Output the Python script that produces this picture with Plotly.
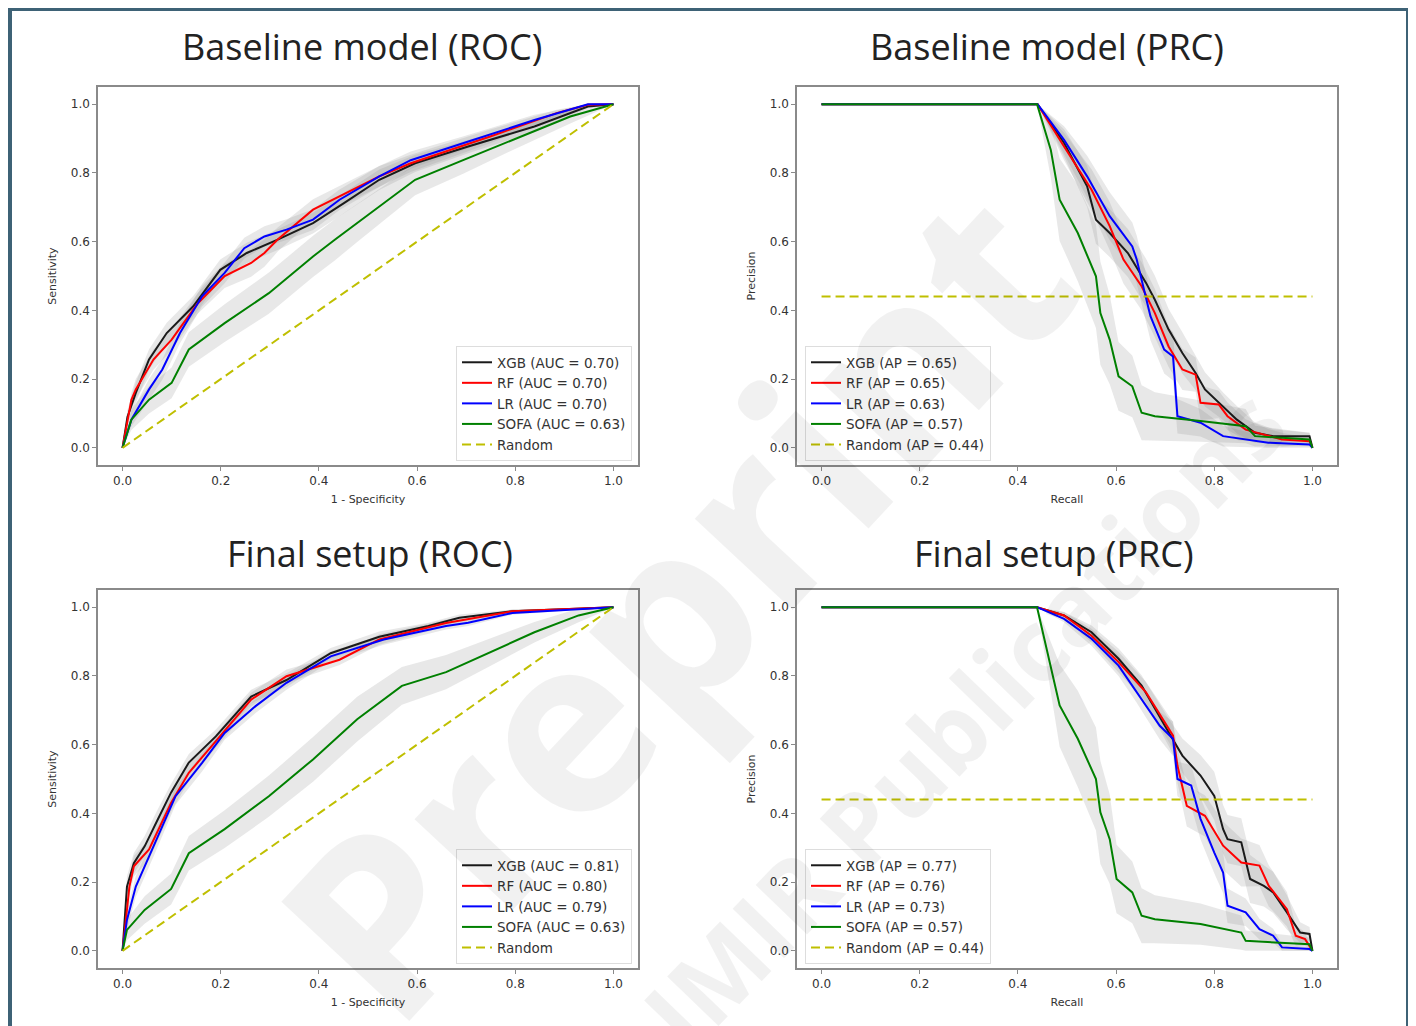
import numpy as np
import plotly.graph_objects as go

# ---------------- data ----------------
# Baseline model ROC
b_roc_xgb_x = [0, 0.01, 0.027, 0.054, 0.09, 0.144, 0.199, 0.253, 0.316, 0.388, 0.451, 0.523, 0.596, 0.704, 0.839, 0.948, 1.0]
b_roc_xgb_y = [0, 0.09, 0.16, 0.257, 0.334, 0.412, 0.518, 0.567, 0.606, 0.654, 0.712, 0.78, 0.828, 0.877, 0.935, 0.993, 1.0]
b_roc_xgb_ci = [0, 0.02, 0.03, 0.03, 0.03, 0.03, 0.03, 0.03, 0.03, 0.03, 0.03, 0.03, 0.025, 0.02, 0.015, 0.005, 0]
b_roc_rf_x = [0, 0.018, 0.027, 0.063, 0.1, 0.153, 0.208, 0.262, 0.289, 0.316, 0.388, 0.442, 0.523, 0.587, 0.749, 0.884, 0.948, 1.0]
b_roc_rf_y = [0, 0.14, 0.17, 0.257, 0.315, 0.42, 0.5, 0.538, 0.567, 0.606, 0.693, 0.732, 0.79, 0.828, 0.906, 0.974, 0.998, 1.0]
b_roc_rf_ci = [0, 0.02, 0.03, 0.03, 0.03, 0.03, 0.035, 0.04, 0.04, 0.035, 0.03, 0.03, 0.03, 0.025, 0.02, 0.01, 0.005, 0]
b_roc_lr_x = [0, 0.018, 0.054, 0.081, 0.117, 0.162, 0.208, 0.248, 0.289, 0.334, 0.388, 0.442, 0.523, 0.587, 0.695, 0.839, 0.948, 1.0]
b_roc_lr_y = [0, 0.082, 0.17, 0.228, 0.334, 0.441, 0.509, 0.581, 0.615, 0.635, 0.664, 0.722, 0.79, 0.837, 0.887, 0.954, 1.0, 1.0]
b_roc_lr_ci = [0, 0.02, 0.03, 0.03, 0.03, 0.03, 0.03, 0.03, 0.03, 0.03, 0.03, 0.03, 0.03, 0.025, 0.02, 0.015, 0.005, 0]
b_roc_sofa_x = [0, 0.018, 0.054, 0.1, 0.135, 0.208, 0.298, 0.388, 0.433, 0.478, 0.532, 0.596, 0.695, 0.794, 0.912, 1.0]
b_roc_sofa_y = [0, 0.082, 0.14, 0.189, 0.286, 0.363, 0.45, 0.557, 0.606, 0.654, 0.712, 0.78, 0.838, 0.896, 0.964, 1.0]
b_roc_sofa_ci = [0, 0.03, 0.04, 0.045, 0.05, 0.055, 0.06, 0.06, 0.06, 0.055, 0.05, 0.045, 0.04, 0.03, 0.02, 0]

# Final setup ROC
f_roc_xgb_x = [0, 0.009, 0.023, 0.045, 0.072, 0.099, 0.135, 0.19, 0.262, 0.334, 0.424, 0.523, 0.623, 0.686, 0.794, 1.0]
f_roc_xgb_y = [0, 0.187, 0.255, 0.304, 0.383, 0.461, 0.548, 0.624, 0.74, 0.788, 0.866, 0.914, 0.945, 0.969, 0.988, 1.0]
f_roc_xgb_ci = [0, 0.03, 0.03, 0.03, 0.03, 0.025, 0.025, 0.02, 0.02, 0.02, 0.015, 0.015, 0.01, 0.01, 0.005, 0]
f_roc_rf_x = [0, 0.014, 0.023, 0.054, 0.099, 0.135, 0.181, 0.262, 0.334, 0.442, 0.523, 0.659, 0.794, 1.0]
f_roc_rf_y = [0, 0.187, 0.246, 0.295, 0.431, 0.518, 0.595, 0.731, 0.799, 0.847, 0.906, 0.954, 0.988, 1.0]
f_roc_rf_ci = [0, 0.03, 0.03, 0.03, 0.025, 0.025, 0.02, 0.02, 0.02, 0.015, 0.015, 0.01, 0.005, 0]
f_roc_lr_x = [0, 0.009, 0.027, 0.063, 0.108, 0.162, 0.208, 0.271, 0.334, 0.424, 0.532, 0.659, 0.704, 0.794, 1.0]
f_roc_lr_y = [0, 0.09, 0.187, 0.304, 0.45, 0.547, 0.634, 0.712, 0.78, 0.857, 0.906, 0.945, 0.955, 0.983, 1.0]
f_roc_lr_ci = [0, 0.03, 0.03, 0.03, 0.025, 0.025, 0.02, 0.02, 0.02, 0.015, 0.015, 0.01, 0.01, 0.005, 0]
f_roc_sofa_x = [0, 0.009, 0.045, 0.099, 0.135, 0.208, 0.298, 0.388, 0.478, 0.569, 0.659, 0.749, 0.839, 0.929, 1.0]
f_roc_sofa_y = [0, 0.061, 0.119, 0.18, 0.284, 0.354, 0.45, 0.557, 0.674, 0.771, 0.811, 0.869, 0.927, 0.976, 1.0]
f_roc_sofa_ci = [0, 0.03, 0.04, 0.045, 0.05, 0.055, 0.06, 0.065, 0.065, 0.055, 0.05, 0.04, 0.03, 0.02, 0]

# Baseline model PRC
b_prc_xgb_x = [0, 0.44, 0.494, 0.541, 0.559, 0.587, 0.624, 0.661, 0.679, 0.707, 0.735, 0.762, 0.781, 0.818, 0.846, 0.883, 0.92, 0.994, 1.0]
b_prc_xgb_y = [1, 1, 0.887, 0.761, 0.664, 0.625, 0.567, 0.48, 0.431, 0.344, 0.276, 0.218, 0.17, 0.121, 0.082, 0.044, 0.034, 0.034, 0.0]
b_prc_xgb_ci = [0, 0, 0.04, 0.06, 0.07, 0.07, 0.07, 0.07, 0.07, 0.06, 0.06, 0.05, 0.05, 0.04, 0.04, 0.03, 0.02, 0.01, 0]
b_prc_rf_x = [0, 0.44, 0.494, 0.55, 0.587, 0.615, 0.652, 0.679, 0.707, 0.735, 0.762, 0.772, 0.809, 0.827, 0.864, 0.911, 0.938, 0.994, 1.0]
b_prc_rf_y = [1, 1, 0.877, 0.751, 0.645, 0.548, 0.47, 0.392, 0.295, 0.228, 0.213, 0.131, 0.126, 0.092, 0.053, 0.034, 0.024, 0.019, 0.0]
b_prc_rf_ci = [0, 0, 0.04, 0.06, 0.07, 0.07, 0.07, 0.07, 0.06, 0.06, 0.05, 0.05, 0.04, 0.04, 0.03, 0.02, 0.02, 0.01, 0]
b_prc_lr_x = [0, 0.44, 0.494, 0.541, 0.587, 0.633, 0.642, 0.67, 0.698, 0.716, 0.725, 0.772, 0.818, 0.91, 0.994, 1.0]
b_prc_lr_y = [1, 1, 0.896, 0.79, 0.674, 0.586, 0.548, 0.383, 0.286, 0.266, 0.092, 0.073, 0.034, 0.015, 0.01, 0.0]
b_prc_lr_ci = [0, 0, 0.04, 0.06, 0.07, 0.07, 0.07, 0.07, 0.07, 0.07, 0.05, 0.04, 0.03, 0.015, 0.01, 0]
b_prc_sofa_x = [0, 0.439, 0.467, 0.485, 0.522, 0.559, 0.568, 0.587, 0.605, 0.633, 0.652, 0.679, 0.772, 0.864, 0.883, 0.994, 1.0]
b_prc_sofa_y = [1, 1, 0.867, 0.722, 0.625, 0.499, 0.392, 0.315, 0.208, 0.179, 0.102, 0.092, 0.078, 0.063, 0.034, 0.024, 0.0]
b_prc_sofa_ci = [0, 0, 0.08, 0.12, 0.14, 0.15, 0.15, 0.13, 0.1, 0.09, 0.08, 0.07, 0.06, 0.05, 0.03, 0.02, 0]

# Final setup PRC
f_prc_xgb_x = [0, 0.439, 0.494, 0.55, 0.605, 0.652, 0.707, 0.735, 0.772, 0.8, 0.818, 0.827, 0.855, 0.873, 0.901, 0.92, 0.948, 0.975, 0.994, 1.0]
f_prc_xgb_y = [1, 1, 0.976, 0.927, 0.85, 0.772, 0.636, 0.568, 0.51, 0.451, 0.354, 0.325, 0.316, 0.209, 0.189, 0.17, 0.112, 0.053, 0.049, 0.0]
f_prc_xgb_ci = [0, 0, 0.01, 0.02, 0.03, 0.03, 0.04, 0.05, 0.06, 0.07, 0.07, 0.07, 0.07, 0.07, 0.06, 0.06, 0.05, 0.03, 0.02, 0]
f_prc_rf_x = [0, 0.439, 0.494, 0.55, 0.605, 0.661, 0.716, 0.725, 0.744, 0.781, 0.818, 0.855, 0.892, 0.911, 0.948, 0.966, 0.985, 1.0]
f_prc_rf_y = [1, 1, 0.976, 0.917, 0.84, 0.752, 0.626, 0.539, 0.422, 0.393, 0.306, 0.257, 0.248, 0.189, 0.121, 0.044, 0.034, 0.0]
f_prc_rf_ci = [0, 0, 0.01, 0.02, 0.03, 0.03, 0.04, 0.05, 0.06, 0.06, 0.07, 0.07, 0.06, 0.06, 0.05, 0.03, 0.02, 0]
f_prc_lr_x = [0, 0.439, 0.494, 0.55, 0.605, 0.642, 0.689, 0.716, 0.725, 0.753, 0.772, 0.8, 0.818, 0.827, 0.864, 0.892, 0.92, 0.938, 0.994, 1.0]
f_prc_lr_y = [1, 1, 0.966, 0.908, 0.83, 0.752, 0.655, 0.617, 0.5, 0.481, 0.384, 0.286, 0.228, 0.131, 0.112, 0.063, 0.044, 0.01, 0.005, 0.0]
f_prc_lr_ci = [0, 0, 0.01, 0.02, 0.03, 0.03, 0.04, 0.05, 0.05, 0.06, 0.06, 0.06, 0.06, 0.05, 0.04, 0.03, 0.02, 0.01, 0.005, 0]
f_prc_sofa_x = [0, 0.439, 0.485, 0.522, 0.559, 0.568, 0.587, 0.601, 0.633, 0.652, 0.679, 0.772, 0.855, 0.864, 0.994, 1.0]
f_prc_sofa_y = [1, 1, 0.714, 0.617, 0.5, 0.403, 0.325, 0.209, 0.17, 0.102, 0.092, 0.078, 0.053, 0.029, 0.019, 0.0]
f_prc_sofa_ci = [0, 0, 0.12, 0.14, 0.15, 0.15, 0.13, 0.1, 0.09, 0.08, 0.07, 0.06, 0.05, 0.03, 0.02, 0]

random_prc_level = 0.44

b_roc_labels = ["XGB (AUC = 0.70)", "RF (AUC = 0.70)", "LR (AUC = 0.70)", "SOFA (AUC = 0.63)", "Random"]
f_roc_labels = ["XGB (AUC = 0.81)", "RF (AUC = 0.80)", "LR (AUC = 0.79)", "SOFA (AUC = 0.63)", "Random"]
b_prc_labels = ["XGB (AP = 0.65)", "RF (AP = 0.65)", "LR (AP = 0.63)", "SOFA (AP = 0.57)", "Random (AP = 0.44)"]
f_prc_labels = ["XGB (AP = 0.77)", "RF (AP = 0.76)", "LR (AP = 0.73)", "SOFA (AP = 0.57)", "Random (AP = 0.44)"]

panel_titles = ["Baseline model (ROC)", "Baseline model (PRC)", "Final setup (ROC)", "Final setup (PRC)"]
tick_vals = [0.0, 0.2, 0.4, 0.6, 0.8, 1.0]
tick_text = ["0.0", "0.2", "0.4", "0.6", "0.8", "1.0"]

# ---------------- styling ----------------
OFF = 8              # page body margin in the browser
W, H = 1408, 1018
COLORS = ["#1a1a1a", "#ff0000", "#0000ff", "#008000"]
RANDOM_COLOR = "#bfbf00"
BAND = "rgba(140,140,140,0.2)"
TICKFONT = dict(family="DejaVu Sans", size=12, color="#333333")
AXFONT = dict(family="DejaVu Sans", size=11, color="#333333")

fig = go.Figure()


def px_x(p):
    return (p - OFF) / W


def px_y(p):
    return 1 - (p - OFF) / H


# plot boxes in page pixels: (left, right, top, bottom)
boxes = [(98, 638, 87, 465), (797, 1337, 87, 465), (98, 638, 590, 968), (797, 1337, 590, 968)]
axis_ids = [("x", "y"), ("x2", "y2"), ("x3", "y3"), ("x4", "y4")]
legend_ids = ["legend", "legend2", "legend3", "legend4"]

panels = [
    ([(b_roc_xgb_x, b_roc_xgb_y, b_roc_xgb_ci), (b_roc_rf_x, b_roc_rf_y, b_roc_rf_ci),
      (b_roc_lr_x, b_roc_lr_y, b_roc_lr_ci), (b_roc_sofa_x, b_roc_sofa_y, b_roc_sofa_ci)], b_roc_labels, "roc"),
    ([(b_prc_xgb_x, b_prc_xgb_y, b_prc_xgb_ci), (b_prc_rf_x, b_prc_rf_y, b_prc_rf_ci),
      (b_prc_lr_x, b_prc_lr_y, b_prc_lr_ci), (b_prc_sofa_x, b_prc_sofa_y, b_prc_sofa_ci)], b_prc_labels, "prc"),
    ([(f_roc_xgb_x, f_roc_xgb_y, f_roc_xgb_ci), (f_roc_rf_x, f_roc_rf_y, f_roc_rf_ci),
      (f_roc_lr_x, f_roc_lr_y, f_roc_lr_ci), (f_roc_sofa_x, f_roc_sofa_y, f_roc_sofa_ci)], f_roc_labels, "roc"),
    ([(f_prc_xgb_x, f_prc_xgb_y, f_prc_xgb_ci), (f_prc_rf_x, f_prc_rf_y, f_prc_rf_ci),
      (f_prc_lr_x, f_prc_lr_y, f_prc_lr_ci), (f_prc_sofa_x, f_prc_sofa_y, f_prc_sofa_ci)], f_prc_labels, "prc"),
]

for (curves, labels, kind), (xa, ya), lg in zip(panels, axis_ids, legend_ids):
    for (x, y, ci) in curves:
        x = np.asarray(x, float)
        y = np.asarray(y, float)
        ci = np.asarray(ci, float)
        hi = np.clip(y + ci, 0, 1)
        lo = np.clip(y - ci, 0, 1)
        fig.add_trace(go.Scatter(
            x=np.concatenate([x, x[::-1]]), y=np.concatenate([hi, lo[::-1]]),
            fill="toself", fillcolor=BAND, line=dict(width=0), mode="lines",
            hoverinfo="skip", showlegend=False, xaxis=xa, yaxis=ya))
    for (x, y, ci), c, lab in zip(curves, COLORS, labels):
        fig.add_trace(go.Scatter(x=x, y=y, mode="lines", line=dict(color=c, width=2),
                                 name=lab, legend=lg, xaxis=xa, yaxis=ya))
    if kind == "roc":
        rx, ry = [0, 1], [0, 1]
    else:
        rx, ry = [0, 1], [random_prc_level, random_prc_level]
    fig.add_trace(go.Scatter(x=rx, y=ry, mode="lines",
                             line=dict(color=RANDOM_COLOR, width=2, dash="9px,5px"),
                             name=labels[4], legend=lg, xaxis=xa, yaxis=ya))

layout = dict(width=W, height=H, autosize=False, margin=dict(l=0, r=0, t=0, b=0),
              paper_bgcolor="white", plot_bgcolor="white", showlegend=True)

xtitles = ["1 - Specificity", "Recall", "1 - Specificity", "Recall"]
ytitles = ["Sensitivity", "Precision", "Sensitivity", "Precision"]

for i, ((l, r, t, b), (xa, ya)) in enumerate(zip(boxes, axis_ids)):
    xkey = "xaxis" if i == 0 else f"xaxis{i+1}"
    ykey = "yaxis" if i == 0 else f"yaxis{i+1}"
    common = dict(range=[-0.05, 1.05], showgrid=False, zeroline=False, showline=True, mirror=True,
                  linecolor="#8a8a8a", linewidth=1.5, ticks="outside", ticklen=4, tickcolor="#8a8a8a",
                  tickvals=tick_vals, ticktext=tick_text, tickfont=TICKFONT, fixedrange=True)
    layout[xkey] = dict(common, domain=[px_x(l), px_x(r)], anchor=ya,
                        title=dict(text=xtitles[i], font=AXFONT, standoff=8))
    layout[ykey] = dict(common, domain=[px_y(b), px_y(t)], anchor=xa,
                        title=dict(text=ytitles[i], font=AXFONT, standoff=12))

leg_common = dict(bgcolor="rgba(255,255,255,0.8)", bordercolor="#dddddd", borderwidth=1,
                  font=dict(family="DejaVu Sans", size=13.5, color="#333333"),
                  tracegroupgap=0, itemwidth=30)
layout["legend"] = dict(leg_common, x=px_x(632), y=px_y(461), xanchor="right", yanchor="bottom")
layout["legend2"] = dict(leg_common, x=px_x(805), y=px_y(461), xanchor="left", yanchor="bottom")
layout["legend3"] = dict(leg_common, x=px_x(632), y=px_y(964), xanchor="right", yanchor="bottom")
layout["legend4"] = dict(leg_common, x=px_x(805), y=px_y(964), xanchor="left", yanchor="bottom")

title_pos = [(362, 47), (1047, 47), (370, 553), (1054, 553)]
annotations = []
for txt, (cx, cy) in zip(panel_titles, title_pos):
    annotations.append(dict(text=txt, x=px_x(cx), y=px_y(cy), xref="paper", yref="paper",
                            xanchor="center", yanchor="middle", showarrow=False,
                            font=dict(family="Open Sans", size=36, color="#222222")))

# faint watermark
annotations.append(dict(text="<b>Preprint</b>", x=px_x(672), y=px_y(600), xref="paper", yref="paper",
                        xanchor="center", yanchor="middle", showarrow=False, textangle=-47,
                        font=dict(family="Open Sans", size=245, color="rgba(0,0,0,0.055)")))
annotations.append(dict(text="<b>JMIR Publications</b>", x=px_x(960), y=px_y(720), xref="paper", yref="paper",
                        xanchor="center", yanchor="middle", showarrow=False, textangle=-46,
                        font=dict(family="Open Sans", size=100, color="rgba(0,0,0,0.055)")))
layout["annotations"] = annotations

# outer frame
layout["shapes"] = [dict(type="rect", xref="paper", yref="paper",
                         x0=px_x(9.5), x1=px_x(1408.5), y0=-0.05, y1=px_y(8.5),
                         line=dict(color="#3e6276", width=5), fillcolor="rgba(0,0,0,0)")]

fig.update_layout(**layout)
fig.write_html("out.html")
